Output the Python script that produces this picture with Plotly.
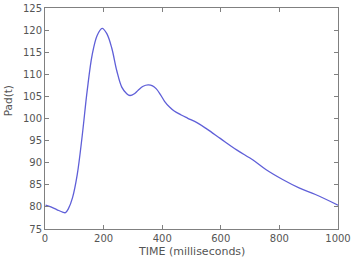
import plotly.graph_objects as go

time_ms = [2, 20, 40, 60, 70, 80, 94, 110, 127, 144, 161, 178, 195, 211, 228, 245, 262, 279, 290, 305, 318, 335, 352, 367, 380, 395, 408, 425, 441, 465, 486, 520, 553, 598, 654, 710, 755, 811, 867, 923, 1000]
pad = [80.4, 80.0, 79.4, 78.8, 78.7, 79.6, 82.1, 87.3, 96.1, 106.3, 114.4, 118.8, 120.4, 119.2, 115.9, 110.8, 107.1, 105.6, 105.2, 105.6, 106.4, 107.3, 107.6, 107.4, 106.7, 105.3, 103.9, 102.6, 101.7, 100.8, 100.1, 99.0, 97.6, 95.5, 92.9, 90.6, 88.4, 86.2, 84.3, 82.8, 80.4]

x_ticks = [0, 200, 400, 600, 800, 1000]
y_ticks = [75, 80, 85, 90, 95, 100, 105, 110, 115, 120, 125]

fig = go.Figure()
fig.add_trace(go.Scatter(x=time_ms, y=pad, mode="lines",
                         line=dict(color="#5f5fd8", width=1.3, shape="spline", smoothing=1.0),
                         showlegend=False))

tick_font = dict(family="DejaVu Sans", size=10, color="#555555")
axis_common = dict(showgrid=False, zeroline=False, showline=True, linecolor="#808080", linewidth=1,
                   mirror="allticks", ticks="inside", ticklen=4, tickcolor="#808080",
                   tickfont=tick_font, ticklabeloverflow="allow")
fig.update_layout(
    width=353, height=257,
    margin=dict(l=45, r=10, t=2, b=28),
    paper_bgcolor="white", plot_bgcolor="white",
    xaxis=dict(range=[0, 1000], tickvals=x_ticks, ticktext=[str(v) for v in x_ticks],
               **axis_common),
    yaxis=dict(range=[75, 125], tickvals=y_ticks, ticktext=[str(v) for v in y_ticks],
               **axis_common),
    annotations=[
        dict(text="Pad(t)", textangle=-90, xref="paper", yref="paper",
             x=-0.128, y=0.58, xanchor="center", yanchor="middle", showarrow=False,
             font=dict(family="DejaVu Sans", size=10.5, color="#555555")),
        dict(text="TIME (milliseconds)", xref="paper", yref="paper",
             x=0.5, y=-0.062, xanchor="center", yanchor="top", showarrow=False,
             font=dict(family="DejaVu Sans", size=11, color="#555555")),
    ],
)
fig.write_html("out.html")
